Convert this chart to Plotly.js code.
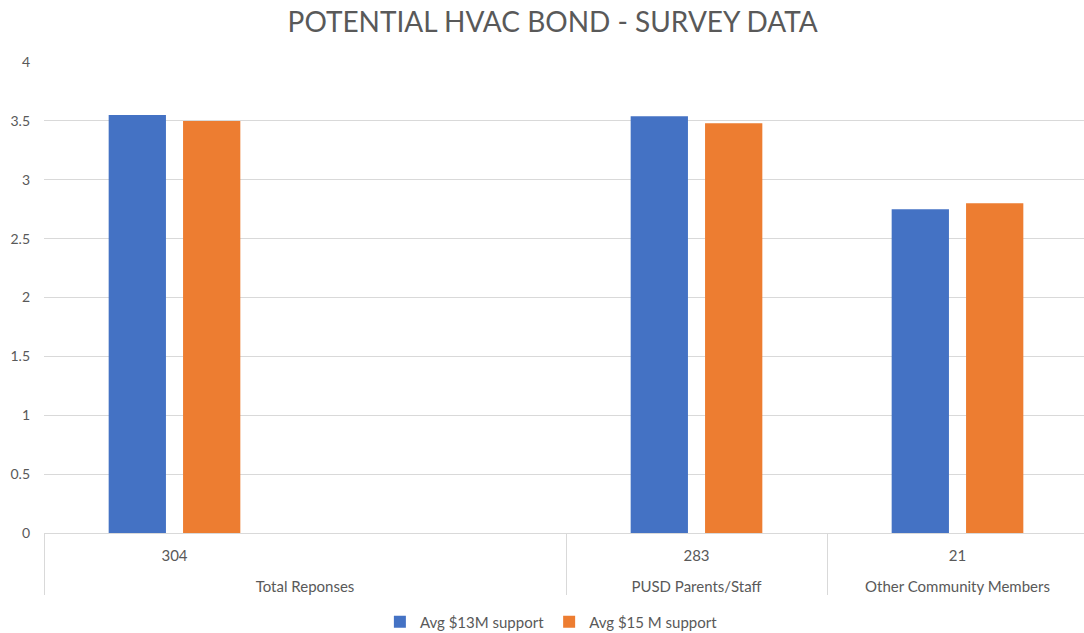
<!DOCTYPE html>
<html><head><meta charset="utf-8">
<script src="https://cdn.plot.ly/plotly-3.0.1.min.js"></script>
<style>html,body{margin:0;padding:0;overflow:hidden;background:#fff}</style>
</head><body><div id="chart" style="width:1088px;height:633px"></div>
<script>
const groups = ["Total Reponses", "Total Reponses", "PUSD Parents/Staff", "Other Community Members"];
const counts = [" <br>304", " <br> ", " <br>283", " <br>21"];
const support13 = [3.55, null, 3.54, 2.75];
const support15 = [3.50, null, 3.48, 2.80];
const seriesNames = ["Avg $13M support", "Avg $15 M support"];
const seriesColors = ["#4472C4", "#ED7D31"];
const yTicks = [0, 0.5, 1, 1.5, 2, 2.5, 3, 3.5, 4];
const yTickText = ["0", "0.5", "1", "1.5", "2", "2.5", "3", "3.5", "4"];

const FONT = "Lato, 'Open Sans', sans-serif";
const GREY = "#595959";

const traces = [support13, support15].map((vals, i) => ({
  type: "bar",
  name: seriesNames[i],
  x: [groups, counts],
  y: vals,
  marker: {color: seriesColors[i]},
  hoverinfo: "y+name"
}));

const layout = {
  width: 1088, height: 633,
  margin: {l: 44, r: 0, t: 62, b: 100, autoexpand: false},
  paper_bgcolor: "#fff", plot_bgcolor: "#fff",
  font: {family: FONT, color: GREY, size: 14},
  title: {text: "POTENTIAL HVAC BOND - SURVEY DATA", font: {family: FONT, size: 28, color: GREY, weight: "normal"},
          x: 0.508, xanchor: "center", y: 0.965, yanchor: "middle", xref: "container", yref: "container"},
  barmode: "group",
  bargap: 0.43,
  bargroupgap: 0.23,
  xaxis: {
    type: "multicategory",
    showline: true, linecolor: "#d9d9d9", linewidth: 1,
    showdividers: true, dividercolor: "#d9d9d9", dividerwidth: 1,
    ticklabelstandoff: -11,
    tickfont: {family: FONT, size: 15, color: GREY},
    showgrid: false, zeroline: false, automargin: false
  },
  yaxis: {
    range: [0, 4], tickvals: yTicks, ticktext: yTickText,
    showgrid: true, gridcolor: "#d9d9d9", gridwidth: 1,
    zeroline: false, showline: false, automargin: false,
    tickfont: {family: FONT, size: 14, color: GREY},
    ticklabelstandoff: 13
  },
  showlegend: true,
  legend: {orientation: "h", x: 0.486, xanchor: "center", y: -0.189, yanchor: "middle",
           font: {family: FONT, size: 15, color: GREY}, traceorder: "normal"}
};

Plotly.newPlot("chart", traces, layout, {displayModeBar: false, staticPlot: true});
</script></body></html>
